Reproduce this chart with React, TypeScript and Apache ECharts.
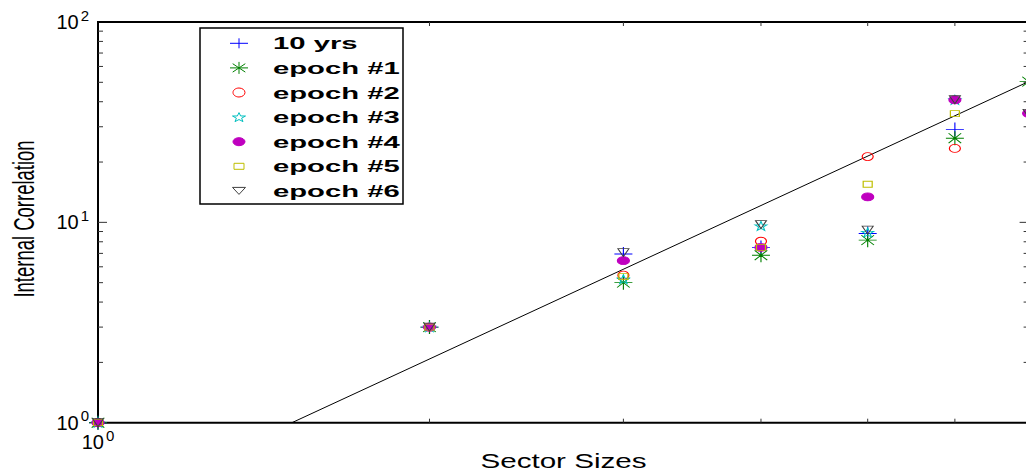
import React, { useEffect, useRef } from 'react';
import * as echarts from 'echarts';

// ---- data ----
const sectorSizes = [1, 2, 3, 4, 5, 6, 7];
const tenYears = [1, 3, 6.95, 7.5, 8.8, 29.1, null];
const epoch1 = [1, 3, 5.0, 6.85, 8.15, 26.3, 50.4];
const epoch2 = [1, 3, 5.45, 8.05, 21.3, 23.4, null];
const epoch3 = [1, 3, 5.2, 9.6, 8.9, 40.9, null];
const epoch4 = [1, 3, 6.44, 7.5, 13.4, 40.9, 35];
const epoch5 = [1, 3, 5.36, 7.5, 15.5, 34.9, null];
const epoch6 = [1, 3, 7.06, 9.75, 9.15, 40.9, 35];
const fitLineX = [1.5, 7];
const fitLineY = [1, 50.4];
const seriesNames = ['10 yrs', 'epoch #1', 'epoch #2', 'epoch #3', 'epoch #4', 'epoch #5', 'epoch #6'];
const seriesValues = [tenYears, epoch1, epoch2, epoch3, epoch4, epoch5, epoch6];
const yMinorTicks = [2, 3, 4, 5, 6, 7, 8, 9, 10, 20, 30, 40, 50, 60, 70, 80, 90];
const xMinorTicks = [2, 3, 4, 5, 6, 7];
const xAxisTitle = 'Sector Sizes';
const yAxisTitle = 'Internal Correlation';

// ---- marker shapes (unit box 0..10) ----
const STAR_PTS: number[][] = [
  [5, 0], [6.18, 3.38], [9.76, 3.45], [6.9, 5.62], [7.94, 9.05],
  [5, 7], [2.06, 9.05], [3.1, 5.62], [0.24, 3.45], [3.82, 3.38],
];
const TRI_PTS: number[][] = [[0, 0], [10, 0], [5, 8.66]];
const ptsPath = (pts: number[][]) => 'path://M' + pts.map((p) => p[0] + ',' + p[1]).join('L') + 'Z';
const PLUS = 'path://M0,5L10,5M5,0L5,10';
const AST = 'path://M0,5L10,5M5,0L5,10M1.5,1.5L8.5,8.5M1.5,8.5L8.5,1.5';
const ELL = 'path://M0,5A5,5,0,1,1,10,5A5,5,0,1,1,0,5Z';

const markers = [
  { kind: 'plus', color: '#0000ff', symbol: PLUS, size: [18, 14], fill: false, lw: 18, lh: 10 },
  { kind: 'ast', color: '#008000', symbol: AST, size: [18, 14], fill: false, lw: 18, lh: 12 },
  { kind: 'ell', color: '#ff0000', symbol: ELL, size: [11, 8], fill: false, lw: 12, lh: 9 },
  { kind: 'star', color: '#00bfbf', symbol: ptsPath(STAR_PTS), size: [12, 9], fill: false, lw: 13, lh: 9 },
  { kind: 'ell', color: '#bf00bf', symbol: ELL, size: [12, 8], fill: true, lw: 12, lh: 8 },
  { kind: 'rect', color: '#bfbf00', symbol: 'rect', size: [9, 6], fill: false, lw: 10, lh: 6 },
  { kind: 'tri', color: '#404040', symbol: ptsPath(TRI_PTS), size: [11, 8], fill: false, lw: 13, lh: 7 },
];

function normPts(pts: number[][], cx: number, cy: number, w: number, h: number) {
  const xs = pts.map((p) => p[0]);
  const ys = pts.map((p) => p[1]);
  const x0 = Math.min(...xs), x1 = Math.max(...xs), y0 = Math.min(...ys), y1 = Math.max(...ys);
  return pts.map((p) => [cx - w / 2 + ((p[0] - x0) / (x1 - x0)) * w, cy - h / 2 + ((p[1] - y0) / (y1 - y0)) * h]);
}

function legendMarker(m: any, cx: number, cy: number): any[] {
  const w = m.lw, h = m.lh;
  const st = { stroke: m.color, lineWidth: 1, fill: m.fill ? m.color : 'none' };
  const ln = (x1: number, y1: number, x2: number, y2: number) => ({ type: 'line', shape: { x1, y1, x2, y2 }, style: { stroke: m.color, lineWidth: 1 } });
  switch (m.kind) {
    case 'plus':
      return [ln(cx - w / 2, cy, cx + w / 2, cy), ln(cx, cy - h / 2, cx, cy + h / 2)];
    case 'ast':
      return [
        ln(cx - w / 2, cy, cx + w / 2, cy), ln(cx, cy - h / 2, cx, cy + h / 2),
        ln(cx - 0.35 * w, cy - 0.35 * h, cx + 0.35 * w, cy + 0.35 * h),
        ln(cx - 0.35 * w, cy + 0.35 * h, cx + 0.35 * w, cy - 0.35 * h),
      ];
    case 'ell':
      return [{ type: 'ellipse', shape: { cx, cy, rx: w / 2, ry: h / 2 }, style: st }];
    case 'star':
      return [{ type: 'polygon', shape: { points: normPts(STAR_PTS, cx, cy, w, h) }, style: st }];
    case 'rect':
      return [{ type: 'rect', shape: { x: cx - w / 2, y: cy - h / 2, width: w, height: h }, style: st }];
    case 'tri':
      return [{ type: 'polygon', shape: { points: normPts(TRI_PTS, cx, cy, w, h) }, style: st }];
  }
  return [];
}

const FONT = '"Liberation Sans", Arial, Helvetica, sans-serif';

function powLabel(v: number) {
  const e = Math.round(Math.log10(v));
  if (Math.abs(Math.log10(v) - e) > 1e-6) return '';
  return '{b|10}{s|' + e + '}';
}

const labelRich = {
  b: { fontSize: 20, fontFamily: FONT, color: '#000' },
  s: { fontSize: 15, fontFamily: FONT, color: '#000', padding: [0, 0, 14, 2] },
};

export default function App() {
  const ref = useRef<HTMLDivElement>(null);
  useEffect(() => {
    if (!ref.current) return;
    const chart = echarts.init(ref.current, undefined, { renderer: 'svg' });

    const scatterSeries = seriesNames.map((name, i) => {
      const m = markers[i];
      const vals = seriesValues[i];
      const data = sectorSizes
        .map((x, k) => (vals[k] == null ? null : [x, vals[k]]))
        .filter((d) => d !== null);
      return {
        name,
        type: 'scatter',
        data,
        symbol: m.symbol,
        symbolSize: m.size,
        clip: false,
        itemStyle: {
          color: m.fill ? m.color : 'rgba(0,0,0,0)',
          borderColor: m.color,
          borderWidth: 1,
          opacity: 1,
        },
        emphasis: { disabled: true },
        z: 4,
      };
    });

    const tickStyle = { stroke: '#333', lineWidth: 1 };

    const legendLeft = 200, legendTop = 28, rowH = 24.6, firstRow = 43.3;
    const legendChildren: any[] = [
      { type: 'rect', shape: { x: legendLeft, y: legendTop, width: 203, height: 176 }, style: { fill: '#fff', stroke: '#000', lineWidth: 1.5 } },
    ];
    seriesNames.forEach((name, i) => {
      const cy = firstRow + rowH * i;
      legendChildren.push(...legendMarker(markers[i], 239, cy));
      legendChildren.push({
        type: 'text', x: 273, y: cy, scaleX: 1.72,
        style: {
          text: name, fontSize: 17, fontWeight: 'bold', fontFamily: FONT, fill: '#000',
          align: 'left', verticalAlign: 'middle', textAlign: 'left', textVerticalAlign: 'middle',
        },
      });
    });

    const option: any = {
      animation: false,
      backgroundColor: '#fff',
      grid: { left: 98, top: 22, right: 3.4, bottom: 52.3, show: true, borderColor: '#000', borderWidth: 2, backgroundColor: 'transparent' },
      xAxis: {
        type: 'log', logBase: 10, min: 1, max: 7,
        axisLine: { show: false }, axisTick: { show: false }, splitLine: { show: false }, minorTick: { show: false },
        axisLabel: { formatter: powLabel, rich: labelRich, margin: 5, showMaxLabel: false },
      },
      yAxis: {
        type: 'log', logBase: 10, min: 1, max: 100,
        axisLine: { show: false }, axisTick: { show: false }, splitLine: { show: false }, minorTick: { show: false },
        axisLabel: { formatter: powLabel, rich: labelRich, margin: 9 },
      },
      series: [
        {
          name: 'fit', type: 'line', data: fitLineX.map((x, i) => [x, fitLineY[i]]),
          symbol: 'none', lineStyle: { color: '#000', width: 1 }, silent: true, z: 3,
        },
        {
          type: 'custom', coordinateSystem: 'cartesian2d', silent: true, clip: false, z: 5,
          data: yMinorTicks.map((v) => [1, v]),
          renderItem: (params: any, api: any) => {
            const cs = params.coordSys;
            const v = api.value(1);
            const p = api.coord([1, v]);
            const lg = Math.log10(v);
            const major = Math.abs(lg - Math.round(lg)) < 1e-9;
            const len = major ? 9 : 5;
            return {
              type: 'group',
              children: [
                { type: 'line', shape: { x1: cs.x, y1: p[1], x2: cs.x + len, y2: p[1] }, style: tickStyle },
                { type: 'line', shape: { x1: cs.x + cs.width, y1: p[1], x2: cs.x + cs.width - len, y2: p[1] }, style: tickStyle },
              ],
            };
          },
        },
        {
          type: 'custom', coordinateSystem: 'cartesian2d', silent: true, clip: false, z: 5,
          data: xMinorTicks.map((v) => [v, 1]),
          renderItem: (params: any, api: any) => {
            const cs = params.coordSys;
            const p = api.coord([api.value(0), 1]);
            const len = 4;
            return {
              type: 'group',
              children: [
                { type: 'line', shape: { x1: p[0], y1: cs.y + cs.height, x2: p[0], y2: cs.y + cs.height - len }, style: tickStyle },
                { type: 'line', shape: { x1: p[0], y1: cs.y, x2: p[0], y2: cs.y + len }, style: tickStyle },
              ],
            };
          },
        },
        ...scatterSeries,
      ],
      graphic: [
        {
          type: 'text', x: 563.5, y: 461, scaleX: 1.48,
          style: {
            text: xAxisTitle, fontSize: 20, fontFamily: FONT, fill: '#000',
            align: 'center', verticalAlign: 'middle', textAlign: 'center', textVerticalAlign: 'middle',
          },
        },
        {
          type: 'text', x: 23.5, y: 219, rotation: Math.PI / 2, scaleY: 1.55,
          style: {
            text: yAxisTitle, fontSize: 18.5, fontFamily: FONT, fill: '#000',
            align: 'center', verticalAlign: 'middle', textAlign: 'center', textVerticalAlign: 'middle',
          },
        },
        { type: 'group', children: legendChildren, z: 100 },
      ],
    };
    chart.setOption(option);
    return () => chart.dispose();
  }, []);

  return (
    <div style={{ position: 'absolute', left: 0, top: 0, width: 1026, height: 475, overflow: 'hidden', background: '#fff' }}>
      <div ref={ref} style={{ width: 1032, height: 475 }} />
    </div>
  );
}
